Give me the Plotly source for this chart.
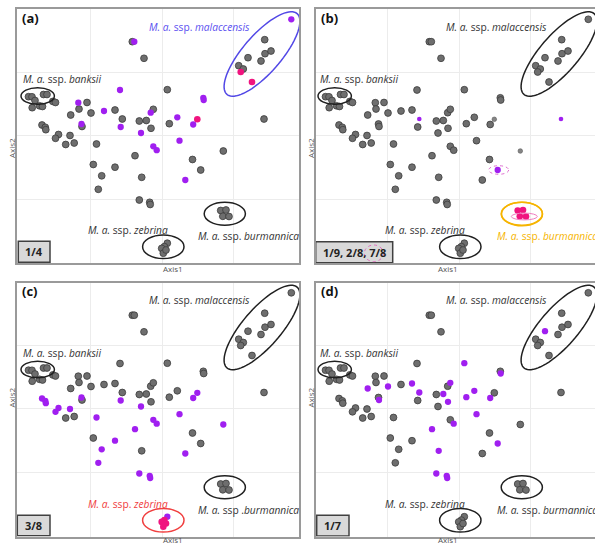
import numpy as np
import plotly.graph_objects as go

# ---------------- data (ordination scores, arbitrary units) ----------------
axis1 = [274.3, 247.7, 231.0, 248.0, 254.0, 244.0, 221.7, 226.3, 223.7, 235.0,
         11.5, 15.0, 18.0, 26.5, 30.0, 15.2, 22.5, 25.5, 35.8, 38.5,
         203.7, 209.0, 205.8, 212.0,
         150.3, 147.4, 144.7, 146.3, 149.0,
         115.3, 117.3, 127.0, 103.0, 61.3, 70.0, 62.0, 74.0, 53.7, 87.0,
         98.0, 105.3, 64.5, 65.0, 25.0, 28.3, 28.8, 41.5, 38.5, 53.0,
         48.7, 57.2, 79.5, 103.7, 122.3, 129.3, 133.7, 136.3, 134.0, 124.0,
         136.3, 139.7, 118.0, 76.3, 98.0, 84.7, 81.3, 124.7, 122.3, 132.7,
         133.2, 150.3, 152.3, 160.3, 176.2, 180.3, 186.3, 186.7, 162.5, 175.5,
         183.7, 168.3, 206.3, 247.0]
axis2 = [243.7, 223.3, 205.3, 209.3, 212.0, 202.0, 197.3, 194.0, 191.0, 181.0,
         166.3, 166.2, 162.5, 168.5, 168.5, 155.3, 157.2, 156.5, 161.6, 160.5,
         52.5, 53.0, 46.7, 46.5,
         19.8, 16.4, 14.6, 9.8, 13.0,
         221.3, 221.3, 204.7, 173.0, 160.3, 160.5, 154.0, 150.0, 148.0, 152.0,
         153.0, 144.0, 139.0, 136.5, 138.0, 135.7, 133.3, 128.5, 124.7, 127.5,
         118.5, 120.0, 119.0, 136.0, 142.0, 142.5, 150.3, 153.7, 134.7, 130.0,
         116.7, 112.8, 107.3, 98.5, 95.8, 87.2, 73.7, 85.7, 63.0, 60.7,
         58.5, 173.3, 139.3, 145.7, 138.5, 143.7, 165.2, 163.0, 122.3, 103.5,
         93.0, 83.0, 112.0, 144.0]

# genotype class of each sample in each panel
# g = other, p = allele present, m = allele (highlighted), ps/gs = sample with missing data
group_a = ("p g g g g g g g m m " + "g " * 10 + "g " * 4 + "g " * 5 +
           "g p g p p g g g g p g g p g g g g g g g g g g p g g p g g p "
           "p p g g g g g g g g g g g p p m p p p g g p g g").split()
group_b = ("g " * 10 + "g " * 10 + "m " * 4 + "g " * 5 +
           "g g g g g g g g g g g ps g g g g g g g g g g g g g g g g g g "
           "g g g g g g g g g g g g g g g gs g g g g p g gs ps").split()
group_c = ("g " * 10 + "g " * 10 + "g " * 4 + "p m m m m " +
           "g g g g g g g g g g g g p g p p p p p p g g p p g g g g g p "
           "p p p g p p p g p p p g g g p p g g p g g p p g").split()
group_d = ("g g p g g g g g g g " + "g " * 10 + "g " * 4 + "g " * 5 +
           "g g g g g g g p p g p p g p g g g g g g g g g g g p g p p g "
           "g p p g g g g p p p p p p p p g g p p g p g g g").split()

panel_letters = ["(a)", "(b)", "(c)", "(d)"]
ratio_labels = ["1/4", "1/9, 2/8, 7/8", "3/8", "1/7"]

# ---------------- styles ----------------
STYLE = {
    "g": dict(color="#6e6e6e", size=6.8, line=dict(color="#3c3c3c", width=0.8)),
    "gs": dict(color="#858585", size=4.6, line=dict(color="#5a5a5a", width=0.6)),
    "p": dict(color="#a01ff0", size=6.3, line=dict(width=0)),
    "ps": dict(color="#a01ff0", size=4.6, line=dict(width=0)),
    "m": dict(color="#f0147f", size=6.6, line=dict(width=0)),
}
ORDER = ["g", "gs", "p", "ps", "m"]
W, H = 595, 544
FONT = "Open Sans"

fig = go.Figure()

panels = [
    dict(ax="", grp=group_a, xd=[17 / W, 299 / W], yd=[1 - 263 / H, 1 - 9 / H], xr=[0, 282]),
    dict(ax="2", grp=group_b, xd=[316 / W, 1.0], yd=[1 - 263 / H, 1 - 9 / H], xr=[2, 281]),
    dict(ax="3", grp=group_c, xd=[17 / W, 299 / W], yd=[1 - 536.5 / H, 1 - 282.5 / H], xr=[0, 282]),
    dict(ax="4", grp=group_d, xd=[316 / W, 1.0], yd=[1 - 536.5 / H, 1 - 282.5 / H], xr=[2, 281]),
]

x1 = np.array(axis1)
x2 = np.array(axis2)
for p in panels:
    grp = np.array(p["grp"])
    for code in ORDER:
        mask = grp == code
        if not mask.any():
            continue
        fig.add_trace(go.Scatter(
            x=x1[mask], y=x2[mask], mode="markers",
            marker=dict(**STYLE[code]), xaxis="x" + p["ax"], yaxis="y" + p["ax"],
            showlegend=False, hoverinfo="skip"))
    axis_common = dict(showticklabels=False, ticks="", zeroline=False,
                       showgrid=True, gridcolor="#ececec", gridwidth=1)
    right = p["ax"] in ("2", "4")
    fig.layout["xaxis" + p["ax"]] = dict(
        domain=p["xd"], range=p["xr"], tickvals=[73, 145, 216],
        anchor="y" + p["ax"], showline=True, linecolor="#9a9a9a", linewidth=1.5,
        mirror=True, **axis_common)
    fig.layout["yaxis" + p["ax"]] = dict(
        domain=p["yd"], range=[0, 254], tickvals=[64, 128, 191],
        anchor="x" + p["ax"], showline=True, linecolor="#9a9a9a", linewidth=1.5,
        mirror=not right, **axis_common)

shapes = []
annotations = []

def ell(ax, cx, cy, a, b, color, width=1.5, dash="solid"):
    shapes.append(dict(type="circle", xref="x" + ax, yref="y" + ax,
                       x0=cx - a, x1=cx + a, y0=cy - b, y1=cy + b,
                       line=dict(color=color, width=width, dash=dash), layer="above"))

def rot_ell(ax, cx, cy, a, b, ang, color, width=1.5):
    t = np.linspace(0, 2 * np.pi, 80)
    th = np.deg2rad(ang)
    xs = cx + a * np.cos(t) * np.cos(th) - b * np.sin(t) * np.sin(th)
    ys = cy + a * np.cos(t) * np.sin(th) + b * np.sin(t) * np.cos(th)
    path = "M " + " L ".join(f"{x:.2f},{y:.2f}" for x, y in zip(xs, ys)) + " Z"
    shapes.append(dict(type="path", xref="x" + ax, yref="y" + ax, path=path,
                       line=dict(color=color, width=width), layer="above"))

def label(ax, x, y, text, color="#333333", size=10.2):
    annotations.append(dict(xref="x" + ax, yref="y" + ax, x=x, y=y, text=text,
                            showarrow=False, font=dict(family=FONT, size=size, color=color),
                            xanchor="center", yanchor="middle"))

BLACK = "#202020"
mal_col = {"": "#5248e6", "2": BLACK, "3": BLACK, "4": BLACK}
zeb_col = {"": BLACK, "2": BLACK, "3": "#f04040", "4": BLACK}
bur_col = {"": BLACK, "2": "#f6b400", "3": BLACK, "4": BLACK}
mal_txt = {"": "#5a4ff0", "2": "#333333", "3": "#333333", "4": "#333333"}
zeb_txt = {"": "#333333", "2": "#333333", "3": "#f03c3c", "4": "#333333"}
bur_txt = {"": "#333333", "2": "#f6b400", "3": "#333333", "4": "#333333"}
bur_str = {"": "<i>M. a.</i> ssp. <i>burmannica</i>", "2": "<i>M. a.</i> ssp. <i>burmannica</i>",
           "3": "<i>M. a.</i> ssp .<i>burmannica</i>", "4": "<i>M. a.</i> ssp. <i>burmannica</i>"}
bur_x = {"": 231.5, "2": 233.5, "3": 231.5, "4": 233.0}

box = {"": (1.3, 33, 0.7, 21.7), "2": (1.7, 78.7, 0.3, 21.3),
       "3": (0.3, 33, 0.7, 21.3), "4": (2.7, 35, 0.5, 21.3)}
axis1_title_y = {"": 268.5, "2": 268.0, "3": 539.5, "4": 539.5}

for i, p in enumerate(panels):
    ax = p["ax"]
    # cluster ellipses
    ell(ax, 20.7, 167, 16.7, 8.3, BLACK)
    rot_ell(ax, 245, 209, 53.5, 19, 49, mal_col[ax])
    ell(ax, 146.3, 16.2, 20.7, 11.8, zeb_col[ax])
    ell(ax, 207.8, 49.3, 20.6, 11.5, bur_col[ax])
    # cluster labels
    label(ax, 44.7, 184, "<i>M. a.</i> ssp. <i>banksii</i>")
    label(ax, 182.5, 236.5, "<i>M. a.</i> ssp. <i>malaccensis</i>", mal_txt[ax])
    label(ax, 110.8, 33, "<i>M. a.</i> ssp. <i>zebrina</i>", zeb_txt[ax])
    label(ax, bur_x[ax], 27, bur_str[ax], bur_txt[ax])
    # panel letter
    annotations.append(dict(xref="x" + ax + " domain", yref="y" + ax + " domain",
                            x=0.01, y=0.965, xanchor="left", yanchor="middle",
                            text="<b>" + panel_letters[i] + "</b>", showarrow=False,
                            font=dict(family=FONT, size=13, color="#111111")))
    # ratio box
    bx0, bx1, by0, by1 = box[ax]
    shapes.append(dict(type="rect", xref="x" + ax, yref="y" + ax, x0=bx0, x1=bx1,
                       y0=by0, y1=by1, fillcolor="#d9d9d9",
                       line=dict(color="#404040", width=1.5), layer="above"))
    annotations.append(dict(xref="x" + ax, yref="y" + ax, x=(bx0 + bx1) / 2,
                            y=(by0 + by1) / 2, text="<b>" + ratio_labels[i] + "</b>",
                            showarrow=False, font=dict(family=FONT, size=11, color="#222222")))
    # axis titles
    xd, yd = p["xd"], p["yd"]
    annotations.append(dict(xref="paper", yref="paper",
                            x=xd[0] + (299 - 17) / W / 2 + 3 / W,
                            y=1 - axis1_title_y[ax] / H,
                            text="Axis1", showarrow=False, yanchor="middle",
                            font=dict(family=FONT, size=8, color="#555555")))
    annotations.append(dict(xref="paper", yref="paper", x=xd[0] - 6 / W,
                            y=(yd[0] + yd[1]) / 2, text="Axis2", showarrow=False,
                            textangle=-90, xanchor="center",
                            font=dict(family=FONT, size=8, color="#555555")))

# extra highlight ellipses in panel (b)
ell("2", 208, 49, 20.5, 11.8, "#f6b400", width=1.6)
ell("2", 210.3, 46.5, 13, 3.4, "#f07cc0", width=1.0)
ell("2", 184.7, 93, 10, 4.3, "#e070d0", width=1.0, dash="dot")
ell("2", 59.8, 9.7, 9.5, 8.3, "#e070c0", width=1.0, dash="dot")

fig.update_layout(width=W, height=H, margin=dict(l=0, r=0, t=0, b=0),
                  paper_bgcolor="white", plot_bgcolor="white",
                  shapes=shapes, annotations=annotations, showlegend=False)
fig.write_html("out.html", config={"displayModeBar": False},
               post_script="document.body.style.margin='0';document.body.style.overflow='hidden';")
